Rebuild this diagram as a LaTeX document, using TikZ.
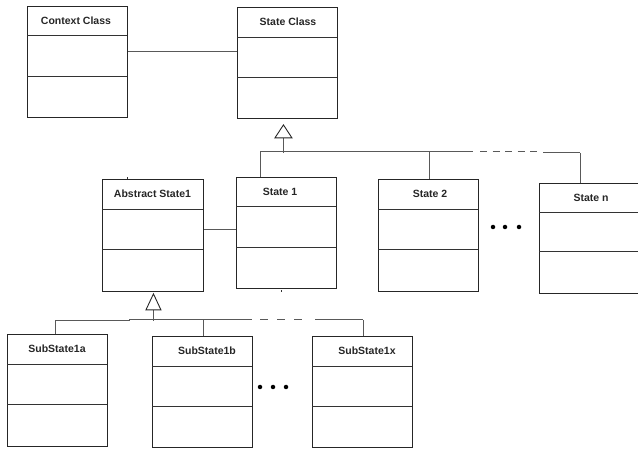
\documentclass[tikz,border=0pt]{standalone}
\usepackage{fontspec}
\setmainfont{Liberation Sans}
\usetikzlibrary{calc}

% A UML class box: name, left, top, right, bottom, first rule, second rule, title x, title
\newcommand\umlclassbox[9]{%
  \node[classbox, minimum width={#4-#2}, minimum height={#5-#3}, anchor=north west] (#1) at (#2,#3) {};
  \draw[rule] (#2,#6) -- (#4,#6);
  \draw[rule] (#2,#7) -- (#4,#7);
  \node[classtitle] (#1-title) at (#8,{(#3+#6)/2}) {#9};
}

\begin{document}
\begin{tikzpicture}[x=1pt,y=-1pt,
  classbox/.style={draw=black!85, line width=0.9pt, rectangle, inner sep=0pt},
  rule/.style={draw=black!80, line width=0.9pt},
  link/.style={draw=black!65, line width=1pt},
  classtitle/.style={font=\bfseries\fontsize{10.5}{12}\selectfont, inner sep=0pt, text=black!85},
  ellipsisdot/.style={circle, fill=black, inner sep=0pt, minimum size=4.5pt},
  inherit/.style={draw=black!85, fill=white, line width=0.9pt, line join=miter}]
\useasboundingbox (0,0) rectangle (638,449);

% classes
\umlclassbox{ctx}{27}{6}{127}{117}{35}{76}{76}{Context Class}
\umlclassbox{st}{237}{7}{337}{118}{37}{77}{288}{State Class}
\umlclassbox{abs}{102}{179}{203}{291}{209}{249}{152.5}{Abstract State1}
\umlclassbox{s1}{236}{177}{336}{288}{206}{247}{280}{State 1}
\umlclassbox{s2}{378}{179}{478}{291}{209}{249}{430}{State 2}
\umlclassbox{sn}{539}{183}{641}{293}{212}{251}{591}{State n}
\umlclassbox{sa}{7}{334}{107}{446}{364}{404}{57}{SubState1a}
\umlclassbox{sb}{152}{336}{252}{447}{366}{406}{207}{SubState1b}
\umlclassbox{sx}{312}{336}{412}{447}{366}{406}{367}{SubState1x}

% associations
\draw[link] (ctx.north east) ++(0,46) coordinate (a1) -- (a1 -| st.west);
\draw[link] (abs.north east) ++(0,51) coordinate (a2) -- (a2 -| s1.west);

% generalization towards State Class
\coordinate (t1) at ($(st.south)+(-4,6)$);
\coordinate (t1b) at ($(t1)+(0,13)$);
\coordinate (bus1) at ($(t1)+(0,28)$);
\draw[link] (t1b) -- (bus1);
\draw[inherit] (t1) -- ($(t1b)+(8.5,0)$) -- ($(t1b)+(-8.5,0)$) -- cycle;
\coordinate (b1l) at (260,152);
\coordinate (b1m) at (473,152);
\coordinate (b1r) at (580,153);
\draw[link] (b1l) -- (b1m);
\draw[link, dash pattern=on 7pt off 5.5pt] (480,152) -- (538,152);
\draw[link] (543,153) -- (b1r);
\draw[link] (b1l) -- (b1l |- s1.north);
\draw[link] (429,152) coordinate (b1s2) -- (b1s2 |- s2.north);
\draw[link] (b1r) -- (b1r |- sn.north);

% generalization towards Abstract State1
\coordinate (t2) at ($(abs.south)+(0.5,2)$);
\coordinate (t2b) at ($(t2)+(0,16)$);
\coordinate (bus2) at ($(t2)+(0,27)$);
\draw[link] (t2b) -- (bus2);
\draw[inherit] (t2) -- ($(t2b)+(7.5,0)$) -- ($(t2b)+(-7.5,0)$) -- cycle;
\coordinate (b2l) at (55,321);
\coordinate (b2r) at (363,320);
\draw[link] (b2l) -- (129,321) -- (129,320) -- (252,320);
\draw[link, dash pattern=on 8pt off 9pt] (260,320) -- (303,320);
\draw[link] (315,320) -- (b2r);
\draw[link] (b2l) -- (b2l |- sa.north);
\draw[link] (203,320) coordinate (b2sb) -- (b2sb |- sb.north);
\draw[link] (b2r) -- (b2r |- sx.north);

% small marks at the box edges
\draw[rule, line width=0.6pt] (abs.north west) ++(25,0) -- ++(0,-2);
\draw[rule, line width=0.8pt] (s1.south west) ++(45,1.5) -- ++(0,2);

% ellipses
\node[ellipsisdot] (e1) at (493,227) {};
\node[ellipsisdot] (e2) at (505,227) {};
\node[ellipsisdot] (e3) at (519,227) {};
\node[ellipsisdot] (f1) at (260,387) {};
\node[ellipsisdot] (f2) at (273,387) {};
\node[ellipsisdot] (f3) at (286,387) {};
\end{tikzpicture}
\end{document}
